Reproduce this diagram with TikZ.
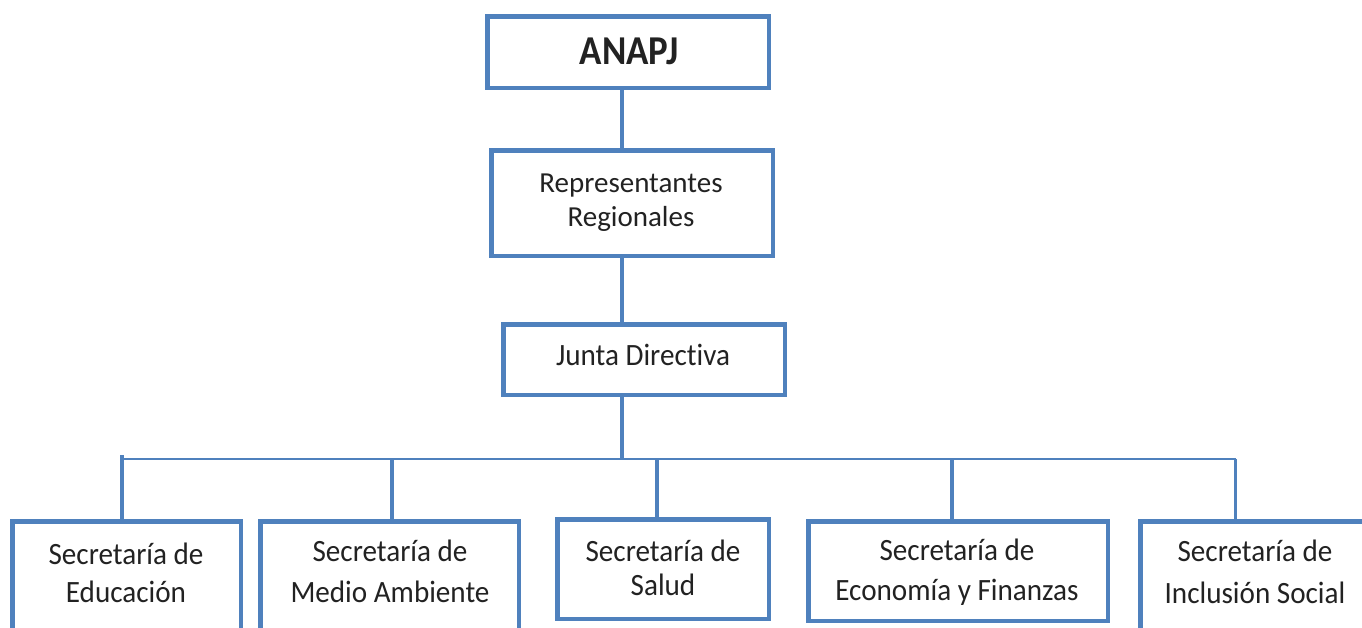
\documentclass[tikz,border=0pt]{standalone}
\usepackage{fontspec}
\setmainfont{Carlito}[Ligatures={CommonOff}]
\newfontfamily\nfont{Carlito}[FakeStretch=0.94, Ligatures={CommonOff}]
\newfontfamily\tfont{Carlito}[FakeStretch=0.9, Ligatures={CommonOff}]
\definecolor{obl}{HTML}{4F81BD}
\definecolor{txt}{HTML}{222222}
\begin{document}
\begin{tikzpicture}[x=1pt,y=-1pt,
  box/.style={draw=obl, line width=4.5pt, rectangle, inner sep=0pt, outer sep=0pt, fill=white},
  conn/.style={draw=obl, line width=4pt},
  busline/.style={draw=obl, line width=2.2pt},
  lbl/.style={text=txt, align=center, inner sep=0pt, anchor=base, font=\nfont\fontsize{31}{39}\selectfont},
]
\useasboundingbox (0,0) rectangle (1362,627);
\clip (0,0) rectangle (1362,627);

% boxes
\node[box, minimum width=281.5pt, minimum height=71.5pt] (anapj) at (628,52) {};
\node[box, minimum width=281.5pt, minimum height=105.5pt] (rep) at (632,203) {};
\node[box, minimum width=281.5pt, minimum height=70.5pt] (junta) at (644,359.5) {};
\node[box, minimum width=228.5pt, minimum height=150pt] (edu) at (126.5,596.25) {};
\node[box, minimum width=258.5pt, minimum height=150pt] (med) at (389.5,596.25) {};
\node[box, minimum width=211.5pt, minimum height=99.5pt] (sal) at (663,569) {};
\node[box, minimum width=299.5pt, minimum height=99.5pt] (eco) at (958,571) {};
\node[box, minimum width=300pt, minimum height=150pt] (inc) at (1290.25,596.25) {};

% connector coordinates
\coordinate (spine) at (622,0);
\coordinate (busL) at (120,459);
\coordinate (busR) at (1236,459);
\coordinate (d1) at (122,455);
\coordinate (d2) at (392,459);
\coordinate (d3) at (657,459);
\coordinate (d4) at (952,459);
\coordinate (d5) at (1235,459);

% connectors
\draw[conn] (spine |- anapj.south) -- (spine |- rep.north);
\draw[conn] (spine |- rep.south) -- (spine |- junta.north);
\draw[conn] (spine |- junta.south) -- (spine |- busL);
\draw[busline] (busL) -- (busR);
\draw[conn] (d1) -- (d1 |- edu.north);
\draw[conn] (d2) -- (d2 |- med.north);
\draw[conn] (d3) -- (d3 |- sal.north);
\draw[conn] (d4) -- (d4 |- eco.north);
\draw[conn, line width=3pt] (d5) -- (d5 |- inc.north);

% labels (anchor = baseline of the last line)
\node[lbl, font=\tfont\bfseries\fontsize{41}{46}\selectfont] (tanapj) at (629,64) {ANAPJ};
\node[lbl, font=\rmfamily\fontsize{29}{34}\selectfont] (trep) at (631,226) {Representantes\\Regionales};
\node[lbl] (tjunta) at (643,365) {Junta Directiva};
\node[lbl, font=\nfont\fontsize{31}{38}\selectfont] (tedu) at (126,602) {Secretaría de\\Educación};
\node[lbl, font=\nfont\fontsize{31}{41}\selectfont] (tmed) at (390,602) {Secretaría de\\Medio Ambiente};
\node[lbl, font=\nfont\fontsize{31}{34}\selectfont] (tsal) at (663,595) {Secretaría de\\Salud};
\node[lbl, font=\nfont\fontsize{31}{40}\selectfont] (teco) at (957,600) {Secretaría de\\Economía y Finanzas};
\node[lbl, font=\nfont\fontsize{31}{42}\selectfont] (tinc) at (1255,603) {Secretaría de\\Inclusión Social};
\end{tikzpicture}
\end{document}
